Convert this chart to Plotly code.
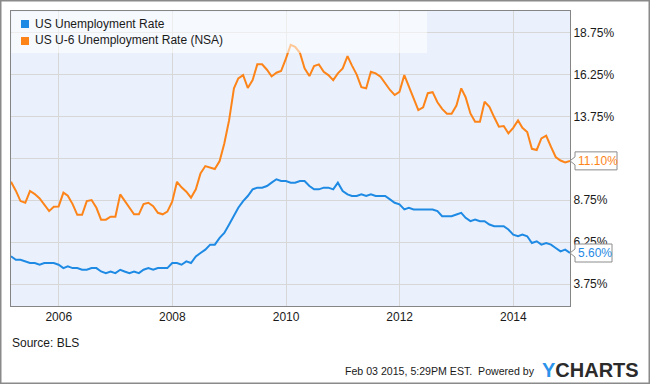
import pandas as pd
import plotly.graph_objects as go

# ---------------- data (monthly, Feb 2005 - Dec 2014) ----------------
FIRST_MONTH = "2005-02-01"

series_names = ["US Unemployment Rate", "US U-6 Unemployment Rate (NSA)"]

unemployment_rate = [
    5.4, 5.2, 5.2, 5.1, 5.0, 5.0, 4.9, 5.0, 5.0, 5.0, 4.9,            # 2005 (Feb-Dec)
    4.7, 4.8, 4.7, 4.7, 4.6, 4.6, 4.7, 4.7, 4.5, 4.4, 4.5, 4.4,       # 2006
    4.6, 4.5, 4.4, 4.5, 4.4, 4.6, 4.7, 4.6, 4.7, 4.7, 4.7, 5.0,       # 2007
    5.0, 4.9, 5.1, 5.0, 5.4, 5.6, 5.8, 6.1, 6.1, 6.5, 6.8, 7.3,       # 2008
    7.8, 8.3, 8.7, 9.0, 9.4, 9.5, 9.5, 9.6, 9.8, 10.0, 9.9, 9.9,      # 2009
    9.8, 9.8, 9.9, 9.9, 9.6, 9.4, 9.4, 9.5, 9.5, 9.4, 9.8, 9.3,       # 2010
    9.1, 9.0, 9.0, 9.1, 9.0, 9.1, 9.0, 9.0, 9.0, 8.8, 8.6, 8.5,       # 2011
    8.2, 8.3, 8.2, 8.2, 8.2, 8.2, 8.2, 8.1, 7.8, 7.8, 7.8, 7.9,       # 2012
    8.0, 7.7, 7.5, 7.6, 7.5, 7.5, 7.3, 7.2, 7.2, 7.2, 7.0, 6.7,       # 2013
    6.6, 6.7, 6.6, 6.2, 6.3, 6.1, 6.2, 6.1, 5.9, 5.7, 5.8, 5.6,       # 2014
]

u6_nsa = [
    9.85, 9.32, 8.70, 8.60, 9.30, 9.12, 8.86, 8.52, 8.10, 8.36, 8.38,                 # 2005
    9.20, 9.02, 8.52, 7.88, 7.88, 8.70, 8.76, 8.30, 7.59, 7.59, 7.77, 7.77,           # 2006
    9.10, 8.70, 8.27, 7.91, 7.91, 8.52, 8.60, 8.40, 8.00, 7.91, 8.07, 8.66,           # 2007
    9.85, 9.52, 9.26, 8.90, 9.40, 10.35, 10.79, 10.69, 10.61, 11.09, 12.14, 13.53,    # 2008
    15.43, 16.02, 16.22, 15.45, 15.92, 16.86, 16.86, 16.54, 16.14, 16.36, 16.46, 17.20,  # 2009
    18.03, 17.91, 17.55, 16.62, 16.16, 16.76, 16.86, 16.42, 16.22, 15.92, 16.32, 16.62,  # 2010
    17.35, 16.80, 16.25, 15.50, 15.43, 16.42, 16.32, 16.12, 15.73, 15.33, 15.03, 15.22,  # 2011
    16.22, 15.50, 14.83, 14.13, 14.29, 15.14, 15.20, 14.60, 14.20, 13.91, 13.91, 14.40,  # 2012
    15.43, 14.90, 13.93, 13.43, 13.43, 14.63, 14.33, 13.70, 13.14, 13.18, 12.74, 13.07,  # 2013
    13.51, 13.07, 12.82, 11.82, 11.75, 12.44, 12.60, 11.94, 11.33, 11.12, 11.01, 11.10,  # 2014
]

y_tick_values = [3.75, 6.25, 8.75, 11.25, 13.75, 16.25, 18.75]
y_tick_hidden = [11.25]          # label covered by the end-value badge in the original
x_tick_years = ["2006", "2008", "2010", "2012", "2014"]
y_range = [2.437, 20.045]

source_text = "Source: BLS"
footer_text = "Feb 03 2015, 5:29PM EST.\u00a0 Powered by"

# ---------------- styling ----------------
BLUE = "#1f8ae4"
ORANGE = "#fd8419"
FONT = "Liberation Sans, Arial, sans-serif"
W, H = 650, 384
ML, MR, MT, MB = 11, 80, 11, 78
PW, PH = W - ML - MR, H - MT - MB


def px2x(px):
    return (px - ML) / PW


def py2y(py):
    return (H - MB - py) / PH


dates = pd.date_range(FIRST_MONTH, periods=len(unemployment_rate), freq="MS") + pd.offsets.MonthEnd(0)

fig = go.Figure()
for name, vals, col in [(series_names[1], u6_nsa, ORANGE), (series_names[0], unemployment_rate, BLUE)]:
    fig.add_trace(go.Scatter(x=dates, y=vals, mode="lines", name=name,
                             line=dict(color=col, width=2), showlegend=False,
                             hoverinfo="x+y"))

shapes = []
annotations = []

# legend (semi-transparent panel over the plot)
shapes.append(dict(type="rect", xref="paper", yref="paper",
                   x0=px2x(11.5), x1=px2x(427), y0=py2y(53), y1=py2y(11.5),
                   fillcolor="rgba(255,255,255,0.55)", line=dict(width=0), layer="above"))
for i, (name, col) in enumerate([(series_names[0], BLUE), (series_names[1], ORANGE)]):
    cy = 24 + 17 * i
    shapes.append(dict(type="rect", xref="paper", yref="paper",
                       x0=px2x(21), x1=px2x(29), y0=py2y(cy + 4), y1=py2y(cy - 4),
                       fillcolor=col, line=dict(width=0), layer="above"))
    annotations.append(dict(text=name, xref="paper", yref="paper", x=px2x(33), y=py2y(cy - 0.5),
                            xanchor="left", yanchor="middle", showarrow=False,
                            font=dict(size=12, color="#1a1a1a", family=FONT)))

# end-value badges (anchored at the last data value on the y axis)
for vals, col, w in [(u6_nsa, ORANGE, 42), (unemployment_rate, BLUE, 37)]:
    last = vals[-1]
    shapes.append(dict(type="path", xref="paper", yref="y", xsizemode="pixel", ysizemode="pixel",
                       xanchor=1, yanchor=last,
                       path=f"M0,0 L5,4 L5,9 L{5 + w},9 L{5 + w},-9 L5,-9 L5,-4 Z",
                       fillcolor="white", line=dict(color="#8c8c8c", width=1), layer="above"))
    annotations.append(dict(text=f"{last:.2f}%", xref="paper", yref="y", x=1, y=last,
                            xanchor="left", yanchor="middle", xshift=7, showarrow=False,
                            borderpad=0, font=dict(size=12, color=col, family=FONT)))

# outer frame
shapes.append(dict(type="rect", xref="paper", yref="paper",
                   x0=px2x(0.75), x1=px2x(649.25), y0=py2y(383.25), y1=py2y(0.75),
                   line=dict(color="#8a8a8a", width=1.5), fillcolor="rgba(0,0,0,0)", layer="above"))

# footer
annotations.append(dict(text=source_text, xref="paper", yref="paper", x=px2x(10), y=py2y(342.5),
                        xanchor="left", yanchor="middle", showarrow=False,
                        font=dict(size=12, color="#1a1a1a", family=FONT)))
annotations.append(dict(text=footer_text, xref="paper", yref="paper", x=px2x(537), y=py2y(371),
                        xanchor="right", yanchor="middle", showarrow=False,
                        font=dict(size=10.6, color="#1a1a1a", family=FONT)))
annotations.append(dict(text="<b><span style='color:#2b93ea'>Y</span>CHARTS</b>", xref="paper", yref="paper",
                        x=px2x(641), y=py2y(370), xanchor="right", yanchor="middle", showarrow=False,
                        font=dict(size=20, color="#2b2b2b", family=FONT)))

fig.update_layout(
    width=W, height=H,
    margin=dict(l=ML, r=MR, t=MT, b=MB, pad=0),
    paper_bgcolor="white",
    plot_bgcolor="#eaf1fc",
    font=dict(family=FONT, size=12, color="#1a1a1a"),
    showlegend=False,
    shapes=shapes,
    annotations=annotations,
    xaxis=dict(
        type="date",
        range=[dates[0], dates[-1]],
        tickvals=[f"{y}-01-01" for y in x_tick_years],
        ticktext=x_tick_years,
        showgrid=True, gridcolor="#d7d7d7", gridwidth=1,
        showline=True, linecolor="#858585", linewidth=1, mirror=True,
        ticks="", zeroline=False,
        tickfont=dict(size=12, color="#1a1a1a", family=FONT),
    ),
    yaxis=dict(
        side="right",
        range=y_range,
        tickvals=y_tick_values,
        ticktext=["" if v in y_tick_hidden else f"{v:.2f}%" for v in y_tick_values],
        showgrid=True, gridcolor="#d7d7d7", gridwidth=1,
        showline=True, linecolor="#858585", linewidth=1, mirror=True,
        ticks="", zeroline=False,
        tickfont=dict(size=12, color="#1a1a1a", family=FONT),
    ),
)

fig.write_html("out.html", config={"displayModeBar": False},
               post_script="document.body.style.margin='0px';document.body.style.overflow='hidden';")
